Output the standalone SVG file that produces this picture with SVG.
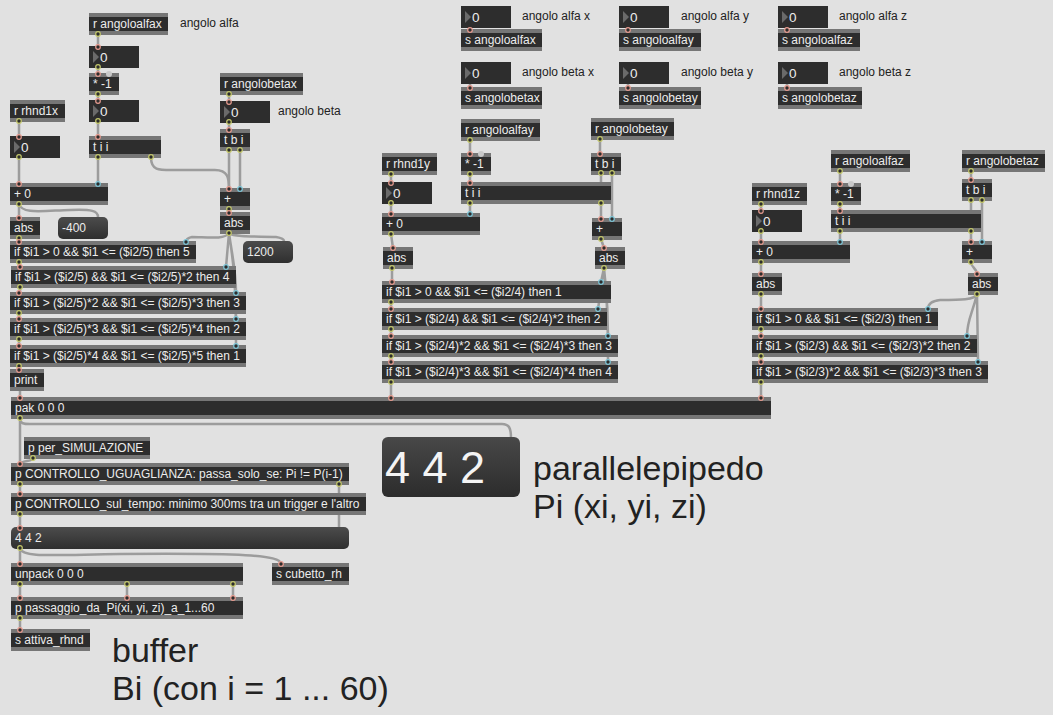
<svg xmlns="http://www.w3.org/2000/svg" width="1053" height="715" viewBox="0 0 1053 715">
<defs>
<linearGradient id="mg" x1="0" y1="0" x2="0" y2="1"><stop offset="0" stop-color="#4c4c4c"/><stop offset="1" stop-color="#2f2f2f"/></linearGradient>
<linearGradient id="dg" x1="0" y1="0" x2="0" y2="1"><stop offset="0" stop-color="#484848"/><stop offset="1" stop-color="#2c2c2c"/></linearGradient>
</defs>
<style>
.st{fill:#767676}
.bd{fill:#2d2d2d}
.t{font-family:"Liberation Sans",Arial,sans-serif;font-size:12px;fill:#ececec}
.n{font-family:"Liberation Sans",Arial,sans-serif;font-size:13.5px;fill:#ececec}
.c{font-family:"Liberation Sans",Arial,sans-serif;font-size:12px;fill:#222}
.big{font-family:"Liberation Sans",Arial,sans-serif;font-size:34px;fill:#222}
.w{fill:none;stroke:#9c9c9c;stroke-width:2.5;stroke-linecap:round}
.po{fill:#2d2d2d;stroke:#c3c76a;stroke-width:1.2}
.pi{fill:#2d2d2d;stroke:#e59a8e;stroke-width:1.2}
.pc{fill:#2d2d2d;stroke:#7cc4d6;stroke-width:1.2}
.gh{fill:#c9c9c9}
.tri{fill:#6a6a6a}
.msg{fill:url(#mg)}
</style>
<rect x="0" y="0" width="1053" height="715" fill="#e1e1e1"/>

<g id="connectors">
<path class="w" d="M98,34V47M98,67V74M98,94V101M98,121V137M98,157V184"/>
<path class="w" d="M151,157C151,172 160,170 180,170L215,170C228,170 229,178 229,189"/>
<path class="w" d="M19,121V137M19,157V184M229,94V102M229,122V130M229,150V189M240,150V189M229,209V213M19,204V218"/>
<path class="w" d="M19,204C22,214 40,211 70,210C92,209 98,211 98,217"/>
<path class="w" d="M19,238V242"/>
<path class="w" d="M229,233C225,240 205,237 192,237C187,238 186,240 186,242"/>
<path class="w" d="M229,233C235,238 262,236 276,237C282,238 284,239 284,241"/>
<path class="w" d="M229,233L226,267M229,233C232,255 236,270 236,293M229,233C232,255 236,270 236,319M229,233C232,255 236,270 236,346"/>
<path class="w" d="M19,262V267M20,287V293M19,313V319M19,339V346M19,366V370M20,390V398"/>

<path class="w" d="M470,140V154M470,174V183M470,203V214M601,203V219M600,139V154M601,173V219M612,173V219"/>
<path class="w" d="M391,174V183M391,203V214M391,234L393,248M601,239L604,248M392,268V282"/>
<path class="w" d="M604,268L601,282M604,268L598,309M604,268C606,290 608,300 608,336M604,268C606,290 608,300 608,362"/>
<path class="w" d="M391,302V309M391,329V336M391,356V362M391,382V398"/>

<path class="w" d="M840,171V184M840,204V211M840,231V242M971,231V242M971,171V180M971,200V242M982,200V242"/>
<path class="w" d="M761,204V211M761,231V242M761,262V274M971,262C971,268 977,268 977,274M761,294V309"/>
<path class="w" d="M977,294C975,300 960,300 940,300C931,301 928,304 928,309"/>
<path class="w" d="M977,294C972,315 967,320 967,336M977,294L978,362"/>
<path class="w" d="M761,329V336M761,356V362M761,382V398"/>

<path class="w" d="M20,418V464"/>
<path class="w" d="M20,418C20,424 24,424 30,424L502,424C509,424 511,428 511,438"/>
<path class="w" d="M33,458C33,462 22,460 20,464"/>
<path class="w" d="M20,484V494M339,484V528M20,514V528M20,548V564"/>
<path class="w" d="M20,548C22,558 50,555 120,554C240,553 281,555 281,564"/>
<path class="w" d="M20,584V598M127,584V598M233,584V598M20,618V630"/>
<path class="w" d="M470,27V30M628,27V30M787,27V30M470,83V88M628,83V88M787,83V88"/>
</g>

<g id="top_row">
<g id="num_alfax"><rect class="bd" x="461" y="6" width="50" height="22"/><path class="tri" d="M465,11L471,17L465,23Z"/><text class="n" x="472" y="22">0</text></g>
<text class="c" x="522" y="20">angolo alfa x</text>
<g id="s_angoloalfax"><rect class="st" x="461" y="29" width="81" height="22"/><rect class="bd" x="461" y="33" width="81" height="14"/><text class="t" x="465" y="44">s angoloalfax</text></g>
<g id="num_alfay"><rect class="bd" x="619" y="6" width="50" height="22"/><path class="tri" d="M623,11L629,17L623,23Z"/><text class="n" x="630" y="22">0</text></g>
<text class="c" x="681" y="20">angolo alfa y</text>
<g id="s_angoloalfay"><rect class="st" x="619" y="29" width="82" height="22"/><rect class="bd" x="619" y="33" width="82" height="14"/><text class="t" x="623" y="44">s angoloalfay</text></g>
<g id="num_alfaz"><rect class="bd" x="778" y="6" width="50" height="22"/><path class="tri" d="M782,11L788,17L782,23Z"/><text class="n" x="789" y="22">0</text></g>
<text class="c" x="839" y="20">angolo alfa z</text>
<g id="s_angoloalfaz"><rect class="st" x="778" y="29" width="82" height="22"/><rect class="bd" x="778" y="33" width="82" height="14"/><text class="t" x="782" y="44">s angoloalfaz</text></g>
<g id="num_betax"><rect class="bd" x="461" y="62" width="50" height="22"/><path class="tri" d="M465,67L471,73L465,79Z"/><text class="n" x="472" y="78">0</text></g>
<text class="c" x="522" y="76">angolo beta x</text>
<g id="s_angolobetax"><rect class="st" x="461" y="87" width="81" height="22"/><rect class="bd" x="461" y="91" width="81" height="14"/><text class="t" x="465" y="102">s angolobetax</text></g>
<g id="num_betay"><rect class="bd" x="619" y="62" width="50" height="22"/><path class="tri" d="M623,67L629,73L623,79Z"/><text class="n" x="630" y="78">0</text></g>
<text class="c" x="681" y="76">angolo beta y</text>
<g id="s_angolobetay"><rect class="st" x="619" y="87" width="82" height="22"/><rect class="bd" x="619" y="91" width="82" height="14"/><text class="t" x="623" y="102">s angolobetay</text></g>
<g id="num_betaz"><rect class="bd" x="778" y="62" width="50" height="22"/><path class="tri" d="M782,67L788,73L782,79Z"/><text class="n" x="789" y="78">0</text></g>
<text class="c" x="839" y="76">angolo beta z</text>
<g id="s_angolobetaz"><rect class="st" x="778" y="87" width="84" height="22"/><rect class="bd" x="778" y="91" width="84" height="14"/><text class="t" x="782" y="102">s angolobetaz</text></g>
</g>

<g id="col_x">
<g id="r_angoloalfax"><rect class="st" x="89" y="13" width="79" height="22"/><rect class="bd" x="89" y="17" width="79" height="14"/><text class="t" x="93" y="28">r angoloalfax</text></g>
<text class="c" x="180" y="27">angolo alfa</text>
<g id="num_ax1"><rect class="bd" x="89" y="46" width="50" height="22"/><path class="tri" d="M93,51L99,57L93,63Z"/><text class="n" x="100" y="62">0</text></g>
<g id="mul_x"><rect class="st" x="89" y="73" width="30" height="22"/><rect class="bd" x="89" y="77" width="30" height="14"/><text class="t" x="93" y="88">* -1</text></g>
<g id="num_ax2"><rect class="bd" x="89" y="100" width="50" height="22"/><path class="tri" d="M93,105L99,111L93,117Z"/><text class="n" x="100" y="116">0</text></g>
<g id="tii_x"><rect class="st" x="89" y="136" width="72" height="22"/><rect class="bd" x="89" y="140" width="72" height="14"/><text class="t" x="93" y="151">t i i</text></g>
<g id="r_rhnd1x"><rect class="st" x="10" y="100" width="55" height="22"/><rect class="bd" x="10" y="104" width="55" height="14"/><text class="t" x="14" y="115">r rhnd1x</text></g>
<g id="num_rx"><rect class="bd" x="10" y="136" width="50" height="22"/><path class="tri" d="M14,141L20,147L14,153Z"/><text class="n" x="21" y="152">0</text></g>
<g id="plus0_x"><rect class="st" x="10" y="183" width="98" height="22"/><rect class="bd" x="10" y="187" width="98" height="14"/><text class="t" x="14" y="198">+ 0</text></g>
<g id="r_angolobetax"><rect class="st" x="220" y="73" width="83" height="22"/><rect class="bd" x="220" y="77" width="83" height="14"/><text class="t" x="224" y="88">r angolobetax</text></g>
<g id="num_bx"><rect class="bd" x="220" y="101" width="50" height="22"/><path class="tri" d="M224,106L230,112L224,118Z"/><text class="n" x="231" y="117">0</text></g>
<text class="c" x="278" y="115">angolo beta</text>
<g id="tbi_x"><rect class="st" x="220" y="129" width="30" height="22"/><rect class="bd" x="220" y="133" width="30" height="14"/><text class="t" x="224" y="144">t b i</text></g>
<g id="plus_x"><rect class="st" x="220" y="188" width="30" height="22"/><rect class="bd" x="220" y="192" width="30" height="14"/><text class="t" x="224" y="203">+</text></g>
<g id="absr_x"><rect class="st" x="220" y="212" width="30" height="22"/><rect class="bd" x="220" y="216" width="30" height="14"/><text class="t" x="224" y="227">abs</text></g>
<g id="absl_x"><rect class="st" x="10" y="217" width="30" height="22"/><rect class="bd" x="10" y="221" width="30" height="14"/><text class="t" x="14" y="232">abs</text></g>
<g id="msg_m400"><rect class="msg" x="58" y="217" width="50" height="22" rx="5"/><text class="t" x="62" y="232">-400</text></g>
<g id="if5_x"><rect class="st" x="10" y="241" width="186" height="22"/><rect class="bd" x="10" y="245" width="186" height="14"/><text class="t" x="14" y="256">if $i1 &gt; 0 &amp;&amp; $i1 &lt;= ($i2/5) then 5</text></g>
<g id="msg_1200"><rect class="msg" x="243" y="241" width="50" height="22" rx="5"/><text class="t" x="247" y="256">1200</text></g>
<g id="if4_x"><rect class="st" x="11" y="266" width="225" height="22"/><rect class="bd" x="11" y="270" width="225" height="14"/><text class="t" x="15" y="281">if $i1 &gt; ($i2/5) &amp;&amp; $i1 &lt;= ($i2/5)*2 then 4</text></g>
<g id="if3_x"><rect class="st" x="10" y="292" width="236" height="22"/><rect class="bd" x="10" y="296" width="236" height="14"/><text class="t" x="14" y="307">if $i1 &gt; ($i2/5)*2 &amp;&amp; $i1 &lt;= ($i2/5)*3 then 3</text></g>
<g id="if2_x"><rect class="st" x="10" y="318" width="236" height="22"/><rect class="bd" x="10" y="322" width="236" height="14"/><text class="t" x="14" y="333">if $i1 &gt; ($i2/5)*3 &amp;&amp; $i1 &lt;= ($i2/5)*4 then 2</text></g>
<g id="if1_x"><rect class="st" x="10" y="345" width="236" height="22"/><rect class="bd" x="10" y="349" width="236" height="14"/><text class="t" x="14" y="360">if $i1 &gt; ($i2/5)*4 &amp;&amp; $i1 &lt;= ($i2/5)*5 then 1</text></g>
<g id="print"><rect class="st" x="10" y="369" width="34" height="22"/><rect class="bd" x="10" y="373" width="34" height="14"/><text class="t" x="14" y="384">print</text></g>
</g>

<g id="col_y">
<g id="r_angoloalfay"><rect class="st" x="461" y="119" width="79" height="22"/><rect class="bd" x="461" y="123" width="79" height="14"/><text class="t" x="465" y="134">r angoloalfay</text></g>
<g id="r_angolobetay"><rect class="st" x="591" y="118" width="83" height="22"/><rect class="bd" x="591" y="122" width="83" height="14"/><text class="t" x="595" y="133">r angolobetay</text></g>
<g id="r_rhnd1y"><rect class="st" x="382" y="153" width="55" height="22"/><rect class="bd" x="382" y="157" width="55" height="14"/><text class="t" x="386" y="168">r rhnd1y</text></g>
<g id="mul_y"><rect class="st" x="461" y="153" width="30" height="22"/><rect class="bd" x="461" y="157" width="30" height="14"/><text class="t" x="465" y="168">* -1</text></g>
<g id="tbi_y"><rect class="st" x="591" y="153" width="30" height="22"/><rect class="bd" x="591" y="157" width="30" height="14"/><text class="t" x="595" y="168">t b i</text></g>
<g id="num_ry"><rect class="bd" x="382" y="182" width="50" height="22"/><path class="tri" d="M386,187L392,193L386,199Z"/><text class="n" x="393" y="198">0</text></g>
<g id="tii_y"><rect class="st" x="461" y="182" width="150" height="22"/><rect class="bd" x="461" y="186" width="150" height="14"/><text class="t" x="465" y="197">t i i</text></g>
<g id="plus0_y"><rect class="st" x="382" y="213" width="98" height="22"/><rect class="bd" x="382" y="217" width="98" height="14"/><text class="t" x="386" y="228">+ 0</text></g>
<g id="plus_y"><rect class="st" x="592" y="218" width="30" height="22"/><rect class="bd" x="592" y="222" width="30" height="14"/><text class="t" x="596" y="233">+</text></g>
<g id="absl_y"><rect class="st" x="383" y="247" width="30" height="22"/><rect class="bd" x="383" y="251" width="30" height="14"/><text class="t" x="387" y="262">abs</text></g>
<g id="absr_y"><rect class="st" x="595" y="247" width="30" height="22"/><rect class="bd" x="595" y="251" width="30" height="14"/><text class="t" x="599" y="262">abs</text></g>
<g id="if1_y"><rect class="st" x="382" y="281" width="229" height="22"/><rect class="bd" x="382" y="285" width="229" height="14"/><text class="t" x="386" y="296">if $i1 &gt; 0 &amp;&amp; $i1 &lt;= ($i2/4) then 1</text></g>
<g id="if2_y"><rect class="st" x="382" y="308" width="225" height="22"/><rect class="bd" x="382" y="312" width="225" height="14"/><text class="t" x="386" y="323">if $i1 &gt; ($i2/4) &amp;&amp; $i1 &lt;= ($i2/4)*2 then 2</text></g>
<g id="if3_y"><rect class="st" x="382" y="335" width="236" height="22"/><rect class="bd" x="382" y="339" width="236" height="14"/><text class="t" x="386" y="350">if $i1 &gt; ($i2/4)*2 &amp;&amp; $i1 &lt;= ($i2/4)*3 then 3</text></g>
<g id="if4_y"><rect class="st" x="382" y="361" width="236" height="22"/><rect class="bd" x="382" y="365" width="236" height="14"/><text class="t" x="386" y="376">if $i1 &gt; ($i2/4)*3 &amp;&amp; $i1 &lt;= ($i2/4)*4 then 4</text></g>
</g>

<g id="col_z">
<g id="r_angoloalfaz"><rect class="st" x="831" y="150" width="79" height="22"/><rect class="bd" x="831" y="154" width="79" height="14"/><text class="t" x="835" y="165">r angoloalfaz</text></g>
<g id="r_angolobetaz"><rect class="st" x="962" y="150" width="83" height="22"/><rect class="bd" x="962" y="154" width="83" height="14"/><text class="t" x="966" y="165">r angolobetaz</text></g>
<g id="r_rhnd1z"><rect class="st" x="752" y="183" width="55" height="22"/><rect class="bd" x="752" y="187" width="55" height="14"/><text class="t" x="756" y="198">r rhnd1z</text></g>
<g id="mul_z"><rect class="st" x="831" y="183" width="30" height="22"/><rect class="bd" x="831" y="187" width="30" height="14"/><text class="t" x="835" y="198">* -1</text></g>
<g id="tbi_z"><rect class="st" x="962" y="179" width="30" height="22"/><rect class="bd" x="962" y="183" width="30" height="14"/><text class="t" x="966" y="194">t b i</text></g>
<g id="num_rz"><rect class="bd" x="752" y="210" width="50" height="22"/><path class="tri" d="M756,215L762,221L756,227Z"/><text class="n" x="763" y="226">0</text></g>
<g id="tii_z"><rect class="st" x="831" y="210" width="150" height="22"/><rect class="bd" x="831" y="214" width="150" height="14"/><text class="t" x="835" y="225">t i i</text></g>
<g id="plus0_z"><rect class="st" x="752" y="241" width="98" height="22"/><rect class="bd" x="752" y="245" width="98" height="14"/><text class="t" x="756" y="256">+ 0</text></g>
<g id="plus_z"><rect class="st" x="962" y="241" width="30" height="22"/><rect class="bd" x="962" y="245" width="30" height="14"/><text class="t" x="966" y="256">+</text></g>
<g id="absl_z"><rect class="st" x="752" y="273" width="30" height="22"/><rect class="bd" x="752" y="277" width="30" height="14"/><text class="t" x="756" y="288">abs</text></g>
<g id="absr_z"><rect class="st" x="968" y="273" width="30" height="22"/><rect class="bd" x="968" y="277" width="30" height="14"/><text class="t" x="972" y="288">abs</text></g>
<g id="if1_z"><rect class="st" x="752" y="308" width="186" height="22"/><rect class="bd" x="752" y="312" width="186" height="14"/><text class="t" x="756" y="323">if $i1 &gt; 0 &amp;&amp; $i1 &lt;= ($i2/3) then 1</text></g>
<g id="if2_z"><rect class="st" x="752" y="335" width="225" height="22"/><rect class="bd" x="752" y="339" width="225" height="14"/><text class="t" x="756" y="350">if $i1 &gt; ($i2/3) &amp;&amp; $i1 &lt;= ($i2/3)*2 then 2</text></g>
<g id="if3_z"><rect class="st" x="752" y="361" width="236" height="22"/><rect class="bd" x="752" y="365" width="236" height="14"/><text class="t" x="756" y="376">if $i1 &gt; ($i2/3)*2 &amp;&amp; $i1 &lt;= ($i2/3)*3 then 3</text></g>
</g>

<g id="bottom">
<g id="pak"><rect class="st" x="11" y="397" width="760" height="22"/><rect class="bd" x="11" y="401" width="760" height="14"/><text class="t" x="15" y="412">pak 0 0 0</text></g>
<g id="p_per_simulazione"><rect class="st" x="24" y="437" width="126" height="22"/><rect class="bd" x="24" y="441" width="126" height="14"/><text class="t" x="28" y="452">p per_SIMULAZIONE</text></g>
<g id="p_uguaglianza"><rect class="st" x="11" y="463" width="338" height="22"/><rect class="bd" x="11" y="467" width="338" height="14"/><text class="t" x="15" y="478">p CONTROLLO_UGUAGLIANZA: passa_solo_se: Pi != P(i-1)</text></g>
<g id="p_tempo"><rect class="st" x="11" y="493" width="355" height="22"/><rect class="bd" x="11" y="497" width="355" height="14"/><text class="t" x="15" y="508">p CONTROLLO_sul_tempo: minimo 300ms tra un trigger e l'altro</text></g>
<g id="msg_442"><rect class="msg" x="11" y="527" width="338" height="22" rx="5"/><text class="t" x="15" y="542">4 4 2</text></g>
<g id="unpack"><rect class="st" x="11" y="563" width="232" height="22"/><rect class="bd" x="11" y="567" width="232" height="14"/><text class="t" x="15" y="578">unpack 0 0 0</text></g>
<g id="s_cubetto_rh"><rect class="st" x="272" y="563" width="77" height="22"/><rect class="bd" x="272" y="567" width="77" height="14"/><text class="t" x="276" y="578">s cubetto_rh</text></g>
<g id="p_passaggio"><rect class="st" x="11" y="597" width="232" height="22"/><rect class="bd" x="11" y="601" width="232" height="14"/><text class="t" x="15" y="612">p passaggio_da_Pi(xi, yi, zi)_a_1...60</text></g>
<g id="s_attiva_rhnd"><rect class="st" x="11" y="629" width="79" height="22"/><rect class="bd" x="11" y="633" width="79" height="14"/><text class="t" x="15" y="644">s attiva_rhnd</text></g>
<g id="display_442"><rect x="382" y="437" width="138" height="60" rx="6" fill="url(#dg)"/><text x="385" y="483" font-family="Liberation Sans, Arial, sans-serif" font-size="45" fill="#f4f4f4">4 4 2</text></g>
<text class="big" x="533" y="480">parallelepipedo</text>
<text class="big" x="533" y="518">Pi (xi, yi, zi)</text>
<text class="big" x="112" y="662">buffer</text>
<text class="big" x="112" y="700">Bi (con i = 1 ... 60)</text>
</g>

<g id="ports">
<circle class="gh" cx="109" cy="74" r="3"/><circle class="gh" cx="481" cy="154" r="3"/><circle class="gh" cx="851" cy="184" r="3"/>
<g class="po">
<circle cx="98" cy="34" r="2.3"/><circle cx="98" cy="67" r="2.3"/><circle cx="98" cy="94" r="2.3"/><circle cx="98" cy="121" r="2.3"/><circle cx="98" cy="157" r="2.3"/><circle cx="151" cy="157" r="2.3"/><circle cx="19" cy="121" r="2.3"/><circle cx="19" cy="157" r="2.3"/><circle cx="229" cy="94" r="2.3"/><circle cx="229" cy="122" r="2.3"/><circle cx="229" cy="150" r="2.3"/><circle cx="240" cy="150" r="2.3"/><circle cx="229" cy="209" r="2.3"/><circle cx="19" cy="204" r="2.3"/><circle cx="19" cy="238" r="2.3"/><circle cx="229" cy="233" r="2.3"/><circle cx="19" cy="262" r="2.3"/><circle cx="20" cy="287" r="2.3"/><circle cx="19" cy="313" r="2.3"/><circle cx="19" cy="339" r="2.3"/><circle cx="19" cy="366" r="2.3"/>
<circle cx="470" cy="140" r="2.3"/><circle cx="470" cy="174" r="2.3"/><circle cx="470" cy="203" r="2.3"/><circle cx="601" cy="203" r="2.3"/><circle cx="600" cy="139" r="2.3"/><circle cx="601" cy="173" r="2.3"/><circle cx="612" cy="173" r="2.3"/><circle cx="391" cy="174" r="2.3"/><circle cx="391" cy="203" r="2.3"/><circle cx="391" cy="234" r="2.3"/><circle cx="601" cy="239" r="2.3"/><circle cx="392" cy="268" r="2.3"/><circle cx="604" cy="268" r="2.3"/><circle cx="391" cy="302" r="2.3"/><circle cx="391" cy="329" r="2.3"/><circle cx="391" cy="356" r="2.3"/><circle cx="391" cy="382" r="2.3"/>
<circle cx="840" cy="171" r="2.3"/><circle cx="840" cy="204" r="2.3"/><circle cx="840" cy="231" r="2.3"/><circle cx="971" cy="231" r="2.3"/><circle cx="971" cy="171" r="2.3"/><circle cx="971" cy="200" r="2.3"/><circle cx="982" cy="200" r="2.3"/><circle cx="761" cy="204" r="2.3"/><circle cx="761" cy="231" r="2.3"/><circle cx="761" cy="262" r="2.3"/><circle cx="971" cy="262" r="2.3"/><circle cx="761" cy="294" r="2.3"/><circle cx="977" cy="294" r="2.3"/><circle cx="761" cy="329" r="2.3"/><circle cx="761" cy="356" r="2.3"/><circle cx="761" cy="382" r="2.3"/>
<circle cx="20" cy="418" r="2.3"/><circle cx="33" cy="458" r="2.3"/><circle cx="20" cy="484" r="2.3"/><circle cx="339" cy="484" r="2.3"/><circle cx="20" cy="514" r="2.3"/><circle cx="20" cy="548" r="2.3"/><circle cx="20" cy="584" r="2.3"/><circle cx="127" cy="584" r="2.3"/><circle cx="233" cy="584" r="2.3"/><circle cx="20" cy="618" r="2.3"/>
</g>
<g class="pi">
<circle cx="98" cy="47" r="2.3"/><circle cx="98" cy="74" r="2.3"/><circle cx="98" cy="101" r="2.3"/><circle cx="98" cy="137" r="2.3"/><circle cx="19" cy="137" r="2.3"/><circle cx="19" cy="184" r="2.3"/><circle cx="229" cy="102" r="2.3"/><circle cx="229" cy="130" r="2.3"/><circle cx="229" cy="189" r="2.3"/><circle cx="229" cy="213" r="2.3"/><circle cx="19" cy="218" r="2.3"/><circle cx="19" cy="242" r="2.3"/><circle cx="20" cy="267" r="2.3"/><circle cx="19" cy="293" r="2.3"/><circle cx="19" cy="319" r="2.3"/><circle cx="19" cy="346" r="2.3"/><circle cx="19" cy="370" r="2.3"/><circle cx="20" cy="398" r="2.3"/>
<circle cx="470" cy="154" r="2.3"/><circle cx="470" cy="183" r="2.3"/><circle cx="601" cy="219" r="2.3"/><circle cx="600" cy="154" r="2.3"/><circle cx="391" cy="183" r="2.3"/><circle cx="391" cy="214" r="2.3"/><circle cx="393" cy="248" r="2.3"/><circle cx="604" cy="248" r="2.3"/><circle cx="392" cy="282" r="2.3"/><circle cx="391" cy="309" r="2.3"/><circle cx="391" cy="336" r="2.3"/><circle cx="391" cy="362" r="2.3"/><circle cx="391" cy="398" r="2.3"/>
<circle cx="840" cy="184" r="2.3"/><circle cx="840" cy="211" r="2.3"/><circle cx="971" cy="242" r="2.3"/><circle cx="971" cy="180" r="2.3"/><circle cx="761" cy="211" r="2.3"/><circle cx="761" cy="242" r="2.3"/><circle cx="761" cy="274" r="2.3"/><circle cx="977" cy="274" r="2.3"/><circle cx="761" cy="309" r="2.3"/><circle cx="761" cy="336" r="2.3"/><circle cx="761" cy="362" r="2.3"/><circle cx="761" cy="398" r="2.3"/>
<circle cx="20" cy="464" r="2.3"/><circle cx="20" cy="494" r="2.3"/><circle cx="20" cy="528" r="2.3"/><circle cx="20" cy="564" r="2.3"/><circle cx="281" cy="564" r="2.3"/><circle cx="20" cy="598" r="2.3"/><circle cx="127" cy="598" r="2.3"/><circle cx="233" cy="598" r="2.3"/><circle cx="20" cy="630" r="2.3"/>
<circle cx="470" cy="30" r="2.3"/><circle cx="628" cy="30" r="2.3"/><circle cx="787" cy="30" r="2.3"/><circle cx="470" cy="88" r="2.3"/><circle cx="628" cy="88" r="2.3"/><circle cx="787" cy="88" r="2.3"/>
</g>
<g class="pc">
<circle cx="98" cy="184" r="2.3"/><circle cx="240" cy="189" r="2.3"/><circle cx="186" cy="242" r="2.3"/><circle cx="226" cy="267" r="2.3"/><circle cx="236" cy="293" r="2.3"/><circle cx="236" cy="319" r="2.3"/><circle cx="236" cy="346" r="2.3"/>
<circle cx="470" cy="214" r="2.3"/><circle cx="612" cy="219" r="2.3"/><circle cx="601" cy="282" r="2.3"/><circle cx="598" cy="309" r="2.3"/><circle cx="608" cy="336" r="2.3"/><circle cx="608" cy="362" r="2.3"/>
<circle cx="840" cy="242" r="2.3"/><circle cx="982" cy="242" r="2.3"/><circle cx="928" cy="309" r="2.3"/><circle cx="967" cy="336" r="2.3"/><circle cx="978" cy="362" r="2.3"/>
</g>
</g>
</svg>
